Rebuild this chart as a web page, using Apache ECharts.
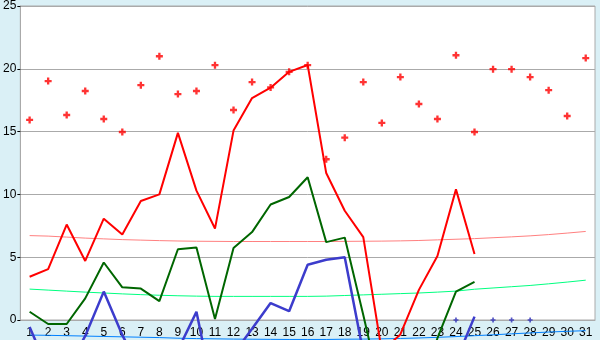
<!DOCTYPE html>
<html>
<head>
<meta charset="utf-8">
<script src="https://cdn.jsdelivr.net/npm/echarts@6/dist/echarts.min.js"></script>
<style>
html,body{margin:0;padding:0;background:#daf0f6;}
#chart{width:600px;height:340px;}
</style>
</head>
<body>
<div id="chart"></div>
<script>
const days = ['1','2','3','4','5','6','7','8','9','10','11','12','13','14','15','16','17','18','19','20','21','22','23','24','25','26','27','28','29','30','31'];
const yTicks = [0, 5, 10, 15, 20, 25];

const redPoints = [15.93,19.02,16.32,18.23,16.0,14.97,18.7,21.0,17.99,18.23,20.29,16.72,18.94,18.52,19.76,20.29,12.8,14.52,18.94,15.69,19.34,17.2,16.0,21.08,14.97,19.97,19.97,19.34,18.3,16.24,20.85];
const redLine = [3.44,4.05,7.6,4.7,8.07,6.8,9.47,10.0,14.9,10.3,7.28,15.08,17.67,18.5,19.76,20.3,11.7,8.7,6.6,-2.5,-1.15,2.4,5.1,10.4,5.25,null,null,null,null,null,null];
const greenLine = [0.66,-0.32,-0.32,1.72,4.58,2.6,2.5,1.5,5.63,5.77,0.08,5.74,7.0,9.2,9.79,11.37,6.2,6.56,0.4,-6,-6,-6,-1.45,2.25,3.04,null,null,null,null,null,null];
const blueLine = [-0.55,-4,-4,-1.27,2.26,-1.2,-4,-4,-2.4,0.65,-6.5,-2.7,-0.7,1.35,0.7,4.4,4.8,5.0,-2.6,-6,-6,-6,-6,-3.3,0.27,null,null,null,null,null,null];
const bluePoints = [null,null,null,null,null,null,null,null,null,null,null,null,null,null,null,null,null,null,null,null,null,null,null,0,null,0,0,0,null,null,null];
const pinkTrend = [6.72,6.68,6.6,6.52,6.46,6.4,6.36,6.32,6.29,6.27,6.26,6.25,6.25,6.25,6.25,6.25,6.25,6.26,6.27,6.28,6.3,6.33,6.38,6.43,6.48,6.55,6.62,6.7,6.8,6.92,7.05];
const lightGreenTrend = [2.46,2.38,2.3,2.22,2.15,2.08,2.02,1.97,1.93,1.9,1.88,1.88,1.88,1.88,1.88,1.88,1.9,1.95,2.0,2.05,2.1,2.15,2.22,2.3,2.45,2.55,2.65,2.75,2.88,3.02,3.17];
const lightBlueTrend = [-1.2,-1.22,-1.25,-1.28,-1.31,-1.34,-1.37,-1.4,-1.45,-1.48,-1.5,-1.52,-1.53,-1.54,-1.55,-1.55,-1.55,-1.53,-1.52,-1.5,-1.47,-1.43,-1.38,-1.32,-1.25,-1.18,-1.1,-1.03,-0.96,-0.9,-0.85];

const plusSym = 'path://M2,0H4V2H6V4H4V6H2V4H0V2H2Z';
const font = 'Liberation Sans';

const chart = echarts.init(document.getElementById('chart'), null, {renderer: 'canvas'});
chart.setOption({
  animation: false,
  backgroundColor: '#daf0f6',
  grid: {left: 20, top: 5, right: 5, bottom: 20, show: true, backgroundColor: '#ffffff', borderColor: '#aaaaaa', borderWidth: 1},
  xAxis: {
    type: 'category', data: days, boundaryGap: true,
    axisLine: {lineStyle: {color: '#aaaaaa', width: 1}},
    axisTick: {alignWithLabel: true, length: 4, lineStyle: {color: '#000000'}},
    axisLabel: {color: '#000000', fontFamily: font, fontSize: 12, margin: 7, interval: 0},
    splitLine: {show: false}
  },
  yAxis: {
    type: 'value', min: yTicks[0], max: yTicks[yTicks.length - 1], interval: 5,
    axisLine: {show: true, lineStyle: {color: '#aaaaaa'}},
    axisTick: {show: true, length: 3, lineStyle: {color: '#000000'}},
    axisLabel: {color: '#000000', fontFamily: font, fontSize: 12, margin: 4},
    splitLine: {show: true, lineStyle: {color: '#aaaaaa', width: 1}}
  },
  series: [
    {type: 'line', data: pinkTrend, clip: false, symbol: 'none', lineStyle: {color: '#ff8080', width: 1}, z: 2},
    {type: 'line', data: lightGreenTrend, clip: false, symbol: 'none', lineStyle: {color: '#00ff80', width: 1}, z: 2},
    {type: 'line', data: lightBlueTrend, clip: false, symbol: 'none', lineStyle: {color: '#0080ff', width: 1}, z: 2},
    {type: 'line', data: blueLine, clip: false, symbol: 'none', lineStyle: {color: '#3c3ccc', width: 2.5}, z: 3},
    {type: 'line', data: greenLine, clip: false, symbol: 'none', lineStyle: {color: '#006600', width: 2}, z: 3},
    {type: 'line', data: redLine, clip: false, symbol: 'none', lineStyle: {color: '#ff0000', width: 2}, z: 4},
    {type: 'scatter', data: redPoints, symbol: plusSym, symbolSize: 7, itemStyle: {color: '#ff0000'}, z: 5},
    {type: 'scatter', data: bluePoints, clip: false, symbol: plusSym, symbolSize: 5, itemStyle: {color: '#2c2cb8'}, z: 5}
  ]
});
</script>
</body>
</html>
